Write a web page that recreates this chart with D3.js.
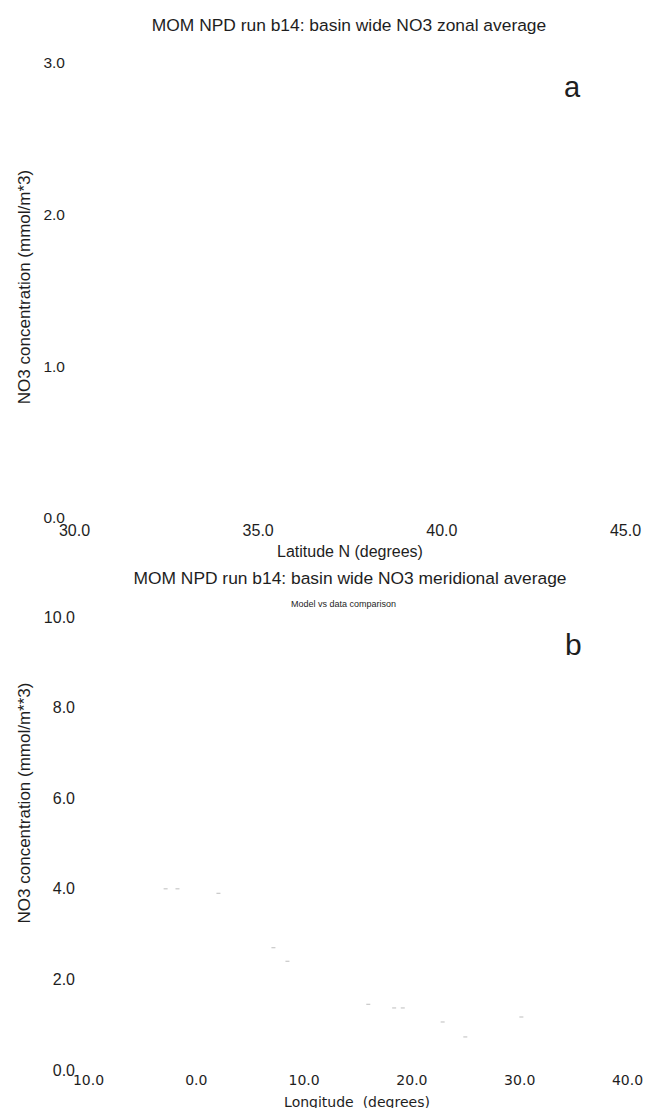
<!DOCTYPE html>
<html>
<head>
<meta charset="utf-8">
<script src="https://cdn.jsdelivr.net/npm/d3@7"></script>
<style>
  body { margin: 0; background: #fff; }
  svg { display: block; }
  text { fill: #1e1e1e; }
</style>
</head>
<body>
<div id="chart-area"></div>
<script>
// panel a: zonal average (lines lost in the scan, only the frame text is left)
var latTicks = [30, 35, 40, 45];
var latLabels = ["30.0", "35.0", "40.0", "45.0"];
var no3TicksA = [0, 1, 2, 3];
var no3LabelsA = ["0.0", "1.0", "2.0", "3.0"];

// panel b: meridional average
var lonTicks = [-10, 0, 10, 20, 30, 40];
var lonLabels = ["10.0", "0.0", "10.0", "20.0", "30.0", "40.0"];
var no3TicksB = [0, 2, 4, 6, 8, 10];
var no3LabelsB = ["0.0", "2.0", "4.0", "6.0", "8.0", "10.0"];

// faint remains of the model/data curve in panel b
var speckLon = [-2.8, -1.7, 2.1, 7.2, 8.5, 16.0, 18.4, 19.2, 22.9, 25.0, 30.2];
var speckNo3 = [4.0, 4.0, 3.9, 2.7, 2.4, 1.45, 1.37, 1.37, 1.06, 0.73, 1.17];

var svg = d3.select("#chart-area").append("svg")
    .attr("width", 646)
    .attr("height", 1108);

var sans = "'Liberation Sans', Arial, sans-serif";

function noLines(g) {
    g.select(".domain").remove();
    g.selectAll(".tick line").remove();
    g.selectAll("text").attr("fill", "#1e1e1e");
}

// ---------- panel a ----------
var xA = d3.scaleLinear().domain([30, 45]).range([74, 625]);
var yA = d3.scaleLinear().domain([0, 3]).range([518, 63]);

svg.append("text")
    .attr("x", 349).attr("y", 31)
    .attr("text-anchor", "middle")
    .style("font", "17.4px " + sans)
    .text("MOM NPD run b14: basin wide NO3 zonal average");

svg.append("g")
    .attr("transform", "translate(0,518)")
    .style("font", "16px " + sans)
    .call(d3.axisBottom(xA).tickValues(latTicks)
        .tickFormat((d, i) => latLabels[i]).tickSize(0).tickPadding(7))
    .call(noLines)
    .attr("font-family", null).attr("font-size", null);

svg.append("g")
    .attr("transform", "translate(65,0)")
    .style("font", "15.5px " + sans)
    .call(d3.axisLeft(yA).tickValues(no3TicksA)
        .tickFormat((d, i) => no3LabelsA[i]).tickSize(0).tickPadding(0))
    .call(noLines)
    .attr("font-family", null).attr("font-size", null);

svg.append("text")
    .attr("x", 350).attr("y", 557)
    .attr("text-anchor", "middle")
    .style("font", "16px " + sans)
    .text("Latitude N (degrees)");

svg.append("text")
    .attr("transform", "translate(30,287) rotate(-90)")
    .attr("text-anchor", "middle")
    .style("font", "17px " + sans)
    .text("NO3 concentration (mmol/m*3)");

svg.append("text")
    .attr("x", 564).attr("y", 97)
    .style("font", "29px " + sans)
    .text("a");

// ---------- panel b ----------
var xB = d3.scaleLinear().domain([-10, 40]).range([88, 627]);
var yB = d3.scaleLinear().domain([0, 10]).range([1070, 617]);

svg.append("text")
    .attr("x", 350).attr("y", 584)
    .attr("text-anchor", "middle")
    .style("font", "17.4px " + sans)
    .text("MOM NPD run b14: basin wide NO3 meridional average");

svg.append("text")
    .attr("x", 291).attr("y", 607)
    .style("font", "9px " + sans)
    .text("Model vs data comparison");

svg.append("text")
    .attr("x", 565).attr("y", 655)
    .style("font", "30px " + sans)
    .text("b");

svg.append("g")
    .attr("transform", "translate(0,1070)")
    .style("font", "14px 'DejaVu Sans', sans-serif")
    .call(d3.axisBottom(xB).tickValues(lonTicks)
        .tickFormat((d, i) => lonLabels[i]).tickSize(0).tickPadding(5))
    .call(noLines)
    .attr("font-family", null).attr("font-size", null);

svg.append("g")
    .attr("transform", "translate(75,0)")
    .style("font", "16px " + sans)
    .call(d3.axisLeft(yB).tickValues(no3TicksB)
        .tickFormat((d, i) => no3LabelsB[i]).tickSize(0).tickPadding(0))
    .call(noLines)
    .attr("font-family", null).attr("font-size", null);

svg.append("text")
    .attr("x", 357).attr("y", 1107)
    .attr("text-anchor", "middle")
    .style("font", "14px 'DejaVu Sans', sans-serif")
    .style("white-space", "pre")
    .text("Longitude  (degrees)");

svg.append("text")
    .attr("transform", "translate(30,803) rotate(-90)")
    .attr("text-anchor", "middle")
    .style("font", "17px " + sans)
    .text("NO3 concentration (mmol/m**3)");

svg.append("g").selectAll("line")
    .data(speckLon)
    .enter()
    .append("line")
        .attr("x1", (d) => xB(d) - 2)
        .attr("x2", (d) => xB(d) + 2)
        .attr("y1", (d, i) => yB(speckNo3[i]))
        .attr("y2", (d, i) => yB(speckNo3[i]))
        .attr("stroke", "#c8c8c8")
        .attr("stroke-width", 1.2);
</script>
</body>
</html>
